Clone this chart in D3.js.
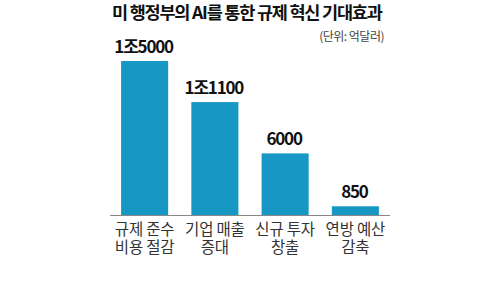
<!DOCTYPE html>
<html>
<head>
<meta charset="utf-8">
<script src="https://cdn.jsdelivr.net/npm/d3@7"></script>
<style>
  body { margin: 0; background: #fff; }
  text { font-family: "Noto Sans CJK KR", "Noto Sans", sans-serif; }
</style>
</head>
<body>
<div id="chart"></div>
<script>
// chart data
const categories = ["규제 준수 비용 절감", "기업 매출 증대", "신규 투자 창출", "연방 예산 감축"];
const labelLines = [["규제 준수", "비용 절감"], ["기업 매출", "증대"], ["신규 투자", "창출"], ["연방 예산", "감축"]];
const values = [15000, 11000, 6000, 850];
const valueLabels = ["1조5000", "1조1100", "6000", "850"];

const width = 500;
const height = 300;
const baseline = 215;

const svg = d3
  .select("#chart")
  .append("svg")
  .attr("width", width)
  .attr("height", height);

const x = d3
  .scaleBand()
  .domain(categories)
  .range([109.5, 390.5])
  .paddingInner(0.33)
  .paddingOuter(0.165);

const y = d3.scaleLinear().domain([0, 15000]).range([baseline, 61]);

// title
svg
  .append("text")
  .attr("x", 112)
  .attr("y", 19)
  .attr("font-size", "17.5px")
  .attr("font-weight", "bold")
  .attr("letter-spacing", "-1.2px")
  .attr("fill", "#111")
  .text("미 행정부의 AI를 통한 규제 혁신 기대효과");

svg
  .append("text")
  .attr("x", 384)
  .attr("y", 41)
  .attr("text-anchor", "end")
  .attr("font-size", "12px")
  .attr("letter-spacing", "-0.5px")
  .attr("fill", "#444")
  .text("(단위: 억달러)");

// bars
svg
  .selectAll("rect.bar")
  .data(values)
  .join("rect")
  .attr("class", "bar")
  .attr("x", (d, i) => x(categories[i]))
  .attr("y", (d) => y(d))
  .attr("width", x.bandwidth())
  .attr("height", (d) => baseline - y(d))
  .attr("fill", "#1797c4");

// value labels
svg
  .selectAll("text.value")
  .data(values)
  .join("text")
  .attr("class", "value")
  .attr("x", (d, i) => x(categories[i]) + x.bandwidth() / 2 - 1)
  .attr("y", (d) => y(d) - 8)
  .attr("text-anchor", "middle")
  .attr("font-size", "17px")
  .attr("font-weight", "bold")
  .attr("letter-spacing", "-1.2px")
  .attr("fill", "#111")
  .text((d, i) => valueLabels[i]);

// baseline
svg
  .append("line")
  .attr("x1", 110)
  .attr("x2", 390)
  .attr("y1", baseline + 0.5)
  .attr("y2", baseline + 0.5)
  .attr("stroke", "#888")
  .attr("stroke-width", 1);

// category labels, two lines each
labelLines.forEach((lines, i) => {
  const cx = x(categories[i]) + x.bandwidth() / 2;
  const t = svg
    .append("text")
    .attr("y", 235)
    .attr("text-anchor", "middle")
    .attr("font-size", "15.5px")
    .attr("letter-spacing", "-0.2px")
    .attr("fill", "#333");
  lines.forEach((line, j) => {
    t.append("tspan")
      .attr("x", cx)
      .attr("dy", j === 0 ? 0 : 17.5)
      .text(line);
  });
});
</script>
</body>
</html>
